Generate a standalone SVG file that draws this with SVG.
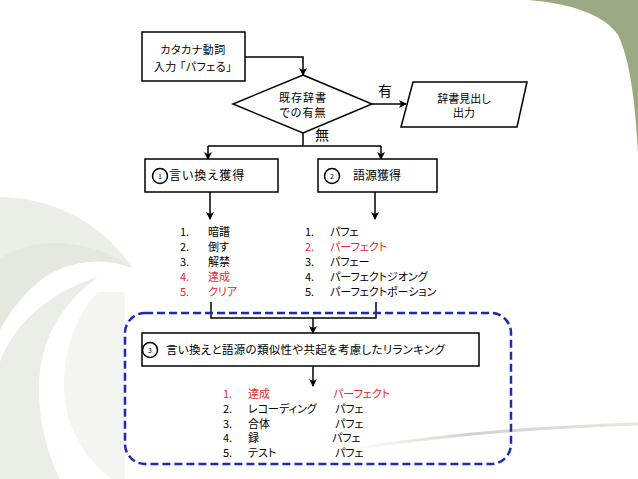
<svg xmlns="http://www.w3.org/2000/svg" width="638" height="479" viewBox="0 0 638 479">
<defs>
<marker id="ah" markerWidth="8" markerHeight="8" refX="7" refY="4" orient="auto" markerUnits="userSpaceOnUse">
<path d="M0,0 L8,4 L0,8 L2,4 Z" fill="#000"/>
</marker>
<linearGradient id="sw" x1="0" y1="0" x2="1" y2="0">
<stop offset="0" stop-color="#ffffff" stop-opacity="0"/>
<stop offset="0.5" stop-color="#cdd3c4"/>
<stop offset="1" stop-color="#e6e9e0"/>
</linearGradient>
<style>
text{font-family:"Noto Sans CJK JP","Liberation Sans",sans-serif;font-size:11px;fill:#000;font-feature-settings:"palt" 1}
.c{text-anchor:middle}
.r{fill:#e8272b}
.big{font-size:14px}
.sm{font-size:7px}
.box{fill:#fff;stroke:#000;stroke-width:1.5}
.ln{fill:none;stroke:#000;stroke-width:1.5}
.arr{fill:none;stroke:#000;stroke-width:1.5;marker-end:url(#ah)}
</style>
</defs>
<rect width="638" height="479" fill="#fff"/>
<g id="background">
<path d="M528,0 C570,3 605,15 618,35 C630,60 635,100 638,152 L638,0 Z" fill="#9aa981"/>
<path d="M0,197 C55,198 105,225 132,268 C105,245 60,238 30,245 C18,248 8,253 0,258 Z" fill="#ebeee6"/>
<path d="M0,258 C8,253 18,248 30,245 C60,238 105,245 132,268 C100,255 60,262 35,285 C20,298 8,315 0,330 Z" fill="#e4e8de"/>
<path d="M0,362 C15,322 50,292 98,277 C66,300 46,330 40,370 C36,410 45,450 60,479 L0,479 Z" fill="#ebede7"/>
<path d="M98,292 C74,318 63,352 64,390 C66,428 84,458 112,479 L125,479 L125,292 Z" fill="#f4f5f2"/>
<path d="M300,458 C420,436 520,428 638,424" fill="none" stroke="url(#sw)" stroke-width="3"/>
</g>
<g id="connectors">
<path class="arr" d="M245,57 H303 V75"/>
<path class="arr" d="M372,104 H406"/>
<path class="ln" d="M303,133 V146 M208,146 H381"/>
<path class="arr" d="M208,146 V159"/>
<path class="arr" d="M381,146 V159"/>
<path class="arr" d="M210,192 V219"/>
<path class="arr" d="M375,192 V219"/>
<path class="ln" d="M211,302 V318 H376 V302"/>
<path class="arr" d="M313,318 V333"/>
<path class="arr" d="M313,366 V386"/>
<text class="big" x="378" y="96">有</text>
<text class="big" x="315" y="140">無</text>
</g>
<g id="dashed-group">
<rect x="125" y="313" width="386" height="151" rx="20" fill="none" stroke="#1e2bb0" stroke-width="2.5" stroke-dasharray="8,4"/>
</g>
<g id="input">
<rect class="box" x="142" y="32" width="103" height="49"/>
<text class="c" x="193" y="54" letter-spacing="0.5">カタカナ動詞</text>
<text class="c" x="193" y="71" letter-spacing="0.5">入力 「パフェる」</text>
</g>
<g id="decision">
<polygon class="box" points="303,75 372,104 303,133 233,104"/>
<text class="c" x="303" y="102" letter-spacing="1">既存辞書</text>
<text class="c" x="303" y="117" letter-spacing="1">での有無</text>
</g>
<g id="output">
<polygon class="box" points="413,82 527,82 517,127 401,127"/>
<text class="c" x="464" y="103">辞書見出し</text>
<text class="c" x="464" y="117">出力</text>
</g>
<g id="step1">
<rect class="box" x="145" y="159" width="133" height="33"/>
<circle class="box" cx="160" cy="176" r="7.5"/>
<text class="c sm" x="160" y="178.5">1</text>
<text x="169" y="180" style="font-size:12px" letter-spacing="1">言い換え獲得</text>
</g>
<g id="step2">
<rect class="box" x="318" y="159" width="119" height="33"/>
<circle class="box" cx="332" cy="176" r="7.5"/>
<text class="c sm" x="332" y="178.5">2</text>
<text x="353" y="180" style="font-size:12px">語源獲得</text>
</g>
<g id="list1">
<text x="180" y="236">1.</text><text x="208" y="236">暗譜</text>
<text x="180" y="251">2.</text><text x="208" y="251">倒す</text>
<text x="180" y="266">3.</text><text x="208" y="266">解禁</text>
<text class="r" x="180" y="281">4.</text><text class="r" x="208" y="281">達成</text>
<text class="r" x="180" y="296">5.</text><text class="r" x="208" y="296">クリア</text>
</g>
<g id="list2">
<text x="305" y="236">1.</text><text x="330" y="236">パフェ</text>
<text class="r" x="305" y="251">2.</text><text class="r" x="330" y="251">パーフェクト</text>
<text x="305" y="266">3.</text><text x="330" y="266">パフェー</text>
<text x="305" y="281">4.</text><text x="330" y="281">パーフェクトジオング</text>
<text x="305" y="296">5.</text><text x="330" y="296">パーフェクトポーション</text>
</g>
<g id="step3">
<rect class="box" x="142" y="333" width="337" height="33"/>
<circle class="box" cx="150" cy="350" r="7.5"/>
<text class="c sm" x="150" y="352.5">3</text>
<text x="166" y="354" style="font-size:11.5px" letter-spacing="0.3">言い換えと語源の類似性や共起を考慮したリランキング</text>
</g>
<g id="list3">
<text class="r" x="223" y="398">1.</text><text class="r" x="248" y="398">達成</text><text class="r" x="333" y="398">パーフェクト</text>
<text x="223" y="413">2.</text><text x="248" y="413">レコーディング</text><text x="335" y="413">パフェ</text>
<text x="223" y="428">3.</text><text x="248" y="428">合体</text><text x="335" y="428">パフェ</text>
<text x="223" y="442">4.</text><text x="248" y="442">録</text><text x="332" y="442">パフェ</text>
<text x="223" y="457">5.</text><text x="248" y="457">テスト</text><text x="335" y="457">パフェ</text>
</g>
</svg>
